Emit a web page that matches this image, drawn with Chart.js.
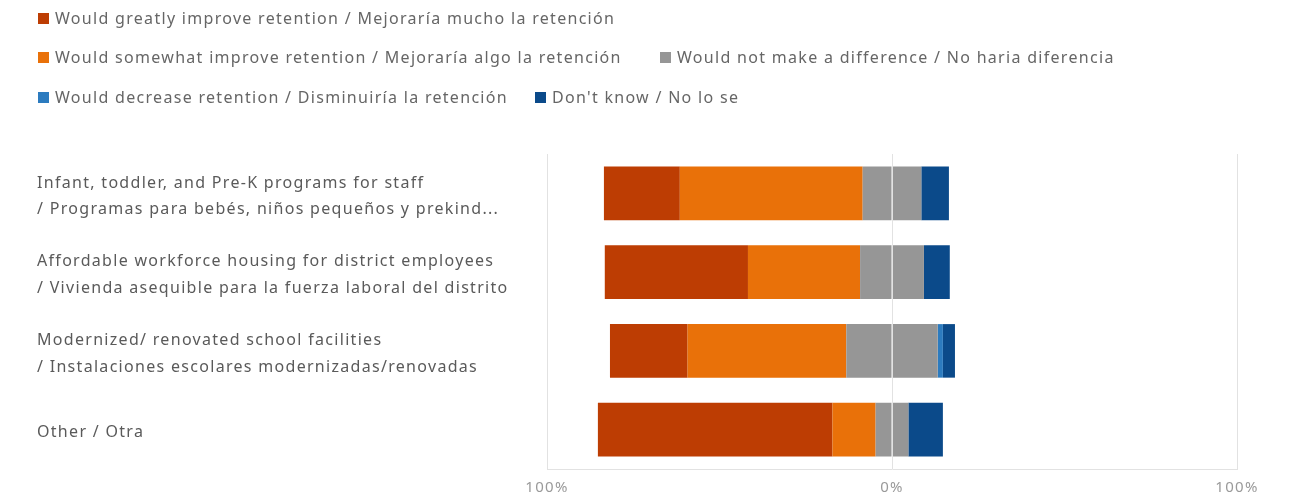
<!DOCTYPE html>
<html>
<head>
<meta charset="utf-8">
<script src="https://cdn.jsdelivr.net/npm/chart.js@4.4.1/dist/chart.umd.min.js"></script>
<style>
  body { margin: 0; background: #fff; }
  #wrap { position: relative; width: 1290px; height: 498px; font-family: "Noto Sans", sans-serif; }
  #chart { position: absolute; left: 0; top: 0; }
  .item { position: absolute; display: flex; align-items: center; font-size: 16px; letter-spacing: 1.3px; color: #666; white-space: nowrap; line-height: 20px; }
  .sw { width: 11px; height: 11px; margin-right: 6px; flex: none; }
</style>
</head>
<body>
<div id="wrap">
  <canvas id="chart" width="1290" height="498"></canvas>
  <div id="legend"></div>
</div>
<script>
const categories = [
  ['Infant, toddler, and Pre-K programs for staff', '/ Programas para bebés, niños pequeños y prekind...'],
  ['Affordable workforce housing for district employees', '/ Vivienda asequible para la fuerza laboral del distrito'],
  ['Modernized/ renovated school facilities', '/ Instalaciones escolares modernizadas/renovadas'],
  ['Other / Otra']
];

const seriesNames = [
  'Would greatly improve retention / Mejoraría mucho la retención',
  'Would somewhat improve retention /  Mejoraría algo la retención',
  'Would not make a difference / No haria diferencia',
  'Would decrease retention / Disminuiría la retención',
  "Don't know / No lo se"
];

// percentages per category
const greatly  = [22, 41.5, 22.5, 68];
const somewhat = [53, 32.5, 46, 12.5];
const noDiff   = [17, 18.5, 26.5, 9.5];
const decrease = [0, 0, 1.5, 0];
const dontKnow = [8, 7.5, 3.5, 10];

const xTicks = [-100, 0, 100];

const colors = ['#bd3d03', '#e97109', '#969696', '#2c7bbf', '#0b4a8a'];

// legend rows: [series index, left, top]
const legendPos = [[0, 38, 8], [1, 38, 47], [2, 660, 47], [3, 38, 87], [4, 535, 87]];
const legendEl = document.getElementById('legend');
legendPos.forEach(([i, x, y]) => {
  const d = document.createElement('div');
  d.className = 'item';
  d.style.left = x + 'px';
  d.style.top = y + 'px';
  d.innerHTML = '<span class="sw" style="background:' + colors[i] + '"></span>' + seriesNames[i];
  legendEl.appendChild(d);
});

// diverging stack: negatives grow left from zero, positives right; neutral split across zero
const neg = a => a.map(v => -v);
const half = (a, s) => a.map(v => s * v / 2);
const bar = (label, data, color) => ({
  label, data, backgroundColor: color, borderWidth: 0, stack: 's',
  barPercentage: 1, categoryPercentage: 0.68
});

// a little extra tracking on the canvas text, like the legend
const spacing = {
  id: 'spacing',
  beforeLayout: c => { c.ctx.letterSpacing = '1.3px'; },
  beforeDraw: c => { c.ctx.letterSpacing = '1.3px'; }
};

new Chart(document.getElementById('chart'), {
  type: 'bar',
  data: {
    labels: categories,
    datasets: [
      bar(seriesNames[2], half(noDiff, -1), colors[2]),
      bar(seriesNames[2], half(noDiff, 1), colors[2]),
      bar(seriesNames[1], neg(somewhat), colors[1]),
      bar(seriesNames[3], decrease, colors[3]),
      bar(seriesNames[0], neg(greatly), colors[0]),
      bar(seriesNames[4], dontKnow, colors[4])
    ]
  },
  plugins: [spacing],
  options: {
    indexAxis: 'y',
    responsive: false,
    animation: false,
    layout: { padding: { left: 37, top: 154, right: 53, bottom: 0 } },
    plugins: {
      legend: { display: false },
      tooltip: {
        callbacks: {
          label: c => c.dataset.label + ': ' + Math.abs(c.raw) + '%'
        }
      }
    },
    scales: {
      x: {
        stacked: true,
        min: -100,
        max: 100,
        afterBuildTicks: s => { s.ticks = xTicks.map(v => ({ value: v })); },
        afterFit: s => { s.height = 29; },
        grid: { color: '#e2e2e2', drawTicks: false, z: 1 },
        border: { color: '#e2e2e2', z: 2 },
        ticks: {
          padding: 10,
          color: '#9a9a9a',
          font: { family: 'Noto Sans', size: 15 },
          callback: v => Math.abs(v) + '%'
        }
      },
      y: {
        stacked: true,
        afterFit: s => { s.width = 547 - 37; },
        grid: { display: false },
        border: { display: false },
        ticks: {
          crossAlign: 'far',
          padding: 0,
          labelOffset: 3,
          color: '#5a5a5a',
          font: { family: 'Noto Sans', size: 16, lineHeight: 1.65 }
        }
      }
    }
  }
});
</script>
</body>
</html>
